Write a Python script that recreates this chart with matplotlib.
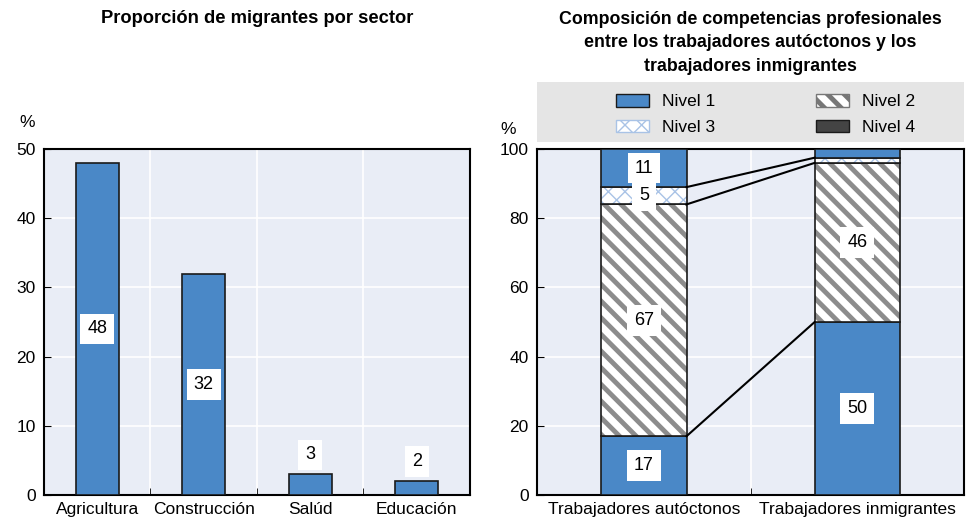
import matplotlib.pyplot as plt
from matplotlib.patches import Patch, Rectangle

plt.rcParams['font.family'] = ['Liberation Sans Narrow', 'Liberation Sans', 'DejaVu Sans']
plt.rcParams['font.size'] = 12
plt.rcParams['hatch.linewidth'] = 3.5

# Left panel data
sectors = ['Agricultura', 'Construcción', 'Salúd', 'Educación']
share = [48, 32, 3, 2]

# Right panel data
groups = ['Trabajadores autóctonos', 'Trabajadores inmigrantes']
nivel1 = [17, 50]
nivel2 = [67, 46]
nivel3 = [5, 1.5]
nivel_top = [11, 2.5]

blue = '#4a88c7'
bg = '#e9edf6'
edge = '#1a1a1a'
stripe = '#8c8c8c'
cross = '#a9c3e6'

fig = plt.figure(figsize=(9.66, 5.25), dpi=100)
ax1 = fig.add_axes([0.0455, 0.0571, 0.441, 0.659])
ax2 = fig.add_axes([0.556, 0.0571, 0.442, 0.659])

for ax in (ax1, ax2):
    ax.set_facecolor(bg)
    for s in ax.spines.values():
        s.set_linewidth(1.5)
        s.set_color('black')
    ax.grid(True, axis='y', color='white', linewidth=1.2)
    ax.grid(True, axis='x', which='minor', color='white', linewidth=1.2)
    ax.set_axisbelow(True)
    ax.tick_params(axis='y', direction='in', length=5, pad=6, labelsize=12.5)
    ax.tick_params(axis='x', which='major', length=0, pad=5, labelsize=12.5)
    ax.tick_params(axis='x', which='minor', direction='in', length=5)

lbl_box = dict(facecolor='white', edgecolor='none', pad=5)

# ---- Left panel
x1 = range(len(sectors))
ax1.bar(x1, share, width=0.4, color=blue, edgecolor=edge, linewidth=1.2, zorder=3)
for i, v in enumerate(share):
    y = v / 2 if v > 10 else v + 2.8
    ax1.text(i, y, str(v), ha='center', va='center', zorder=5, fontsize=13, bbox=lbl_box)
ax1.set_xticks(list(x1))
ax1.set_xticklabels(sectors)
ax1.set_xticks([0.5, 1.5, 2.5], minor=True)
ax1.set_xlim(-0.5, 3.5)
ax1.set_ylim(0, 50)
ax1.set_yticks(range(0, 51, 10))
ax1.text(-0.04, 1.055, '%', transform=ax1.transAxes, ha='center', va='bottom', fontsize=12.5)
ax1.set_title('Proporción de migrantes por sector', fontweight='bold', fontsize=13.2,
              pad=0, y=1.352, va='bottom')

# ---- Right panel
x2 = [0, 1]
w = 0.4
b2 = nivel1
b3 = [a + b for a, b in zip(nivel1, nivel2)]
b4 = [a + b for a, b in zip(b3, nivel3)]
ax2.bar(x2, nivel1, width=w, color=blue, edgecolor=edge, linewidth=1.2, zorder=3)
ax2.bar(x2, nivel2, width=w, bottom=b2, color='white', linewidth=0, zorder=3)
ax2.bar(x2, nivel2, width=w, bottom=b2, color='none', edgecolor=stripe,
        hatch='\\\\', linewidth=0, zorder=3)
ax2.bar(x2, nivel2, width=w, bottom=b2, color='none', edgecolor=edge,
        linewidth=1.2, zorder=3)
cb = ax2.bar(x2, nivel3, width=w, bottom=b3, color='white', edgecolor=cross,
             hatch='xx', linewidth=0, zorder=3)
for p in cb:
    if hasattr(p, 'set_hatch_linewidth'):
        p.set_hatch_linewidth(1.0)
ax2.bar(x2, nivel3, width=w, bottom=b3, color='none', edgecolor=edge,
        linewidth=1.2, zorder=3)
ax2.bar(x2, nivel_top, width=w, bottom=b4, color=blue, edgecolor=edge,
        linewidth=1.2, zorder=3)

# connector lines between the bars
for lev in (b2, b3, b4):
    ax2.plot([x2[0] + w / 2, x2[1] - w / 2], lev, color='black', linewidth=1.5, zorder=4)

labels = [(0, nivel1[0] / 2, nivel1[0]), (0, b2[0] + nivel2[0] / 2, nivel2[0]),
          (0, b3[0] + nivel3[0] / 2, nivel3[0]), (0, b4[0] + nivel_top[0] / 2, nivel_top[0]),
          (1, nivel1[1] / 2, nivel1[1]), (1, b2[1] + nivel2[1] / 2, nivel2[1])]
for xi, yi, v in labels:
    ax2.text(xi, yi, f'{v:g}', ha='center', va='center', zorder=5, fontsize=13, bbox=lbl_box)

ax2.set_xticks(x2)
ax2.set_xticklabels(groups)
ax2.set_xticks([0.5], minor=True)
ax2.set_xlim(-0.5, 1.5)
ax2.set_ylim(0, 100)
ax2.set_yticks(range(0, 101, 20))
ax2.text(-0.068, 1.035, '%', transform=ax2.transAxes, ha='center', va='bottom', fontsize=12.5)
ax2.set_title('Composición de competencias profesionales\nentre los trabajadores autóctonos y los\ntrabajadores inmigrantes',
              fontweight='bold', fontsize=12.8, pad=0, y=1.215, va='bottom', linespacing=1.5)

# gray legend band
ax2.add_patch(Rectangle((0, 1.02), 1.0, 0.173, transform=ax2.transAxes,
                        facecolor='#e5e5e5', edgecolor='none', clip_on=False, zorder=1))
handles = [
    Patch(facecolor=blue, edgecolor=edge, label='Nivel 1'),
    Patch(facecolor='white', edgecolor=cross, hatch='xx', label='Nivel 3'),
    Patch(facecolor='white', edgecolor='#777777', hatch='\\\\', label='Nivel 2'),
    Patch(facecolor='#444444', edgecolor=edge, label='Nivel 4'),
]
leg = ax2.legend(handles=handles, ncol=2, loc='center',
                 bbox_to_anchor=(0.535, 1.1), frameon=False,
                 handlelength=1.9, handleheight=0.75, handletextpad=0.75,
                 labelspacing=0.6, columnspacing=5.8, fontsize=12.5)
for p in leg.get_patches():
    if p.get_hatch() == 'xx' and hasattr(p, 'set_hatch_linewidth'):
        p.set_hatch_linewidth(1.0)

fig.savefig('out.png', dpi=100)
